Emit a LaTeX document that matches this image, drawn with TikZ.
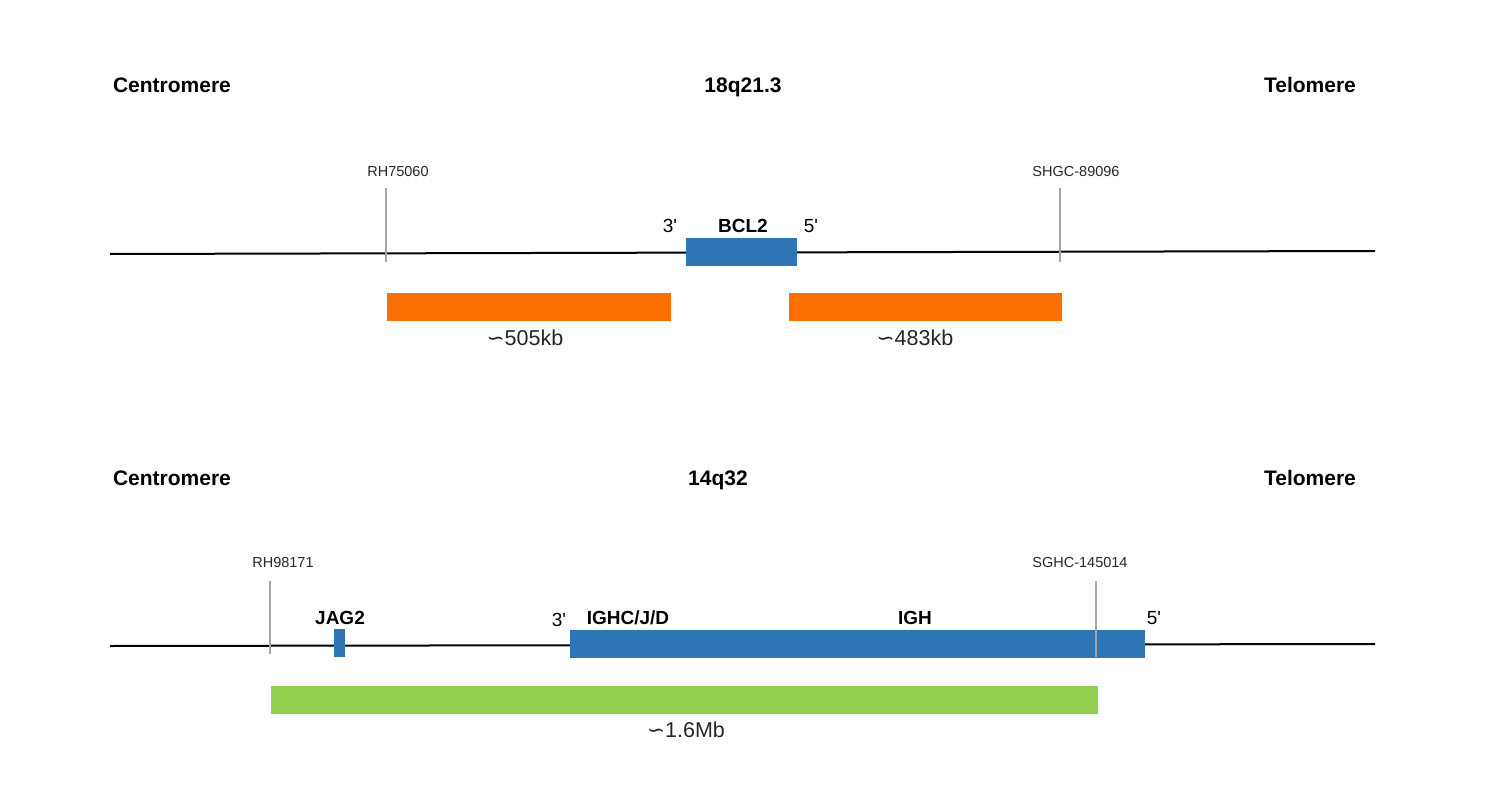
\documentclass[tikz,border=0pt]{standalone}
\usepackage{fontspec}
\setmainfont{Liberation Sans}[Ligatures=TeXOff]
\newfontfamily\symfont{DejaVu Sans}
\definecolor{geneblue}{HTML}{2E75B6}
\definecolor{probeorange}{HTML}{FA7000}
\definecolor{probegreen}{HTML}{92D050}
\definecolor{tickgray}{HTML}{A6A6A6}
\begin{document}
\begin{tikzpicture}[x=1pt, y=-1pt,
  head/.style={font={\fontsize{21}{24}\selectfont\bfseries}, anchor=base},
  genelabel/.style={font={\fontsize{19}{22}\selectfont\bfseries}},
  endlabel/.style={font={\fontsize{19}{22}\selectfont}},
  markerlabel/.style={font={\fontsize{14.5}{17}\selectfont}, text=black!85},
  sizelabel/.style={font={\fontsize{21.5}{24}\selectfont}, text=black!85},
  chrom/.style={line width=2pt, black},
  tick/.style={line width=2pt, tickgray},
  gene/.style={fill=geneblue, inner sep=0pt, minimum height=28pt},
  probe/.style={inner sep=0pt, minimum height=28pt}]
  \useasboundingbox (0,0) rectangle (1498,799);
  % headings of both chromosomes
  \foreach \t/\x [count=\n] in {Centromere/172, 18q21.3/743, Telomere/1310} {
    \node[head] (top\n) at (\x,93) {\t};
  }
  \foreach \t/\x [count=\n] in {Centromere/172, 14q32/718, Telomere/1310} {
    \node[head] (bot\n) at (\x,485) {\t};
  }

  % chromosome 18
  \coordinate (c18w) at (110,254);
  \coordinate (c18e) at (1375,251);
  \draw[chrom] (c18w) -- (c18e);
  \node[gene, minimum width=111pt] (bcl2) at (741.5,252) {};
  \node[genelabel] (bcl2name) at (743,226) {BCL2};
  \node[endlabel] (bcl2three) at (670,226) {3'};
  \node[endlabel] (bcl2five) at (811,226) {5'};
  % markers
  \foreach \name/\x/\lx [count=\n] in {RH75060/386/398, SHGC-89096/1060/1076} {
    \node[markerlabel] (mk18\n) at (\lx,172) {\name};
    \coordinate (mk18top\n) at (\x,188);
    \coordinate (mk18bot\n) at (\x,262);
    \draw[tick] (mk18top\n) -- (mk18bot\n);
  }
  % probes
  \node[probe, fill=probeorange, minimum width=284pt] (probe1) at (529,307) {};
  \node[probe, fill=probeorange, minimum width=273pt] (probe2) at (925.5,307) {};
  \node[sizelabel] (size1) at (525,338) {{\symfont ∽}505kb};
  \node[sizelabel] (size2) at (915,338) {{\symfont ∽}483kb};

  % chromosome 14
  \coordinate (c14w) at (110,646);
  \coordinate (c14e) at (1375,644);
  \draw[chrom] (c14w) -- (c14e);
  \node[gene, minimum width=11pt] (jag2) at (339.5,643) {};
  \node[genelabel] (jag2name) at (340,618) {JAG2};
  \node[gene, minimum width=575pt] (igh) at (857.5,644) {};
  \node[genelabel] (ighcjd) at (628,618) {IGHC/J/D};
  \node[genelabel] (ighname) at (915,618) {IGH};
  \node[endlabel] (ighthree) at (559,620) {3'};
  \node[endlabel] (ighfive) at (1154,618) {5'};
  % markers
  \foreach \name/\x/\lx/\b [count=\n] in {RH98171/270/283/654, SGHC-145014/1096/1080/657} {
    \node[markerlabel] (mk14\n) at (\lx,563) {\name};
    \coordinate (mk14top\n) at (\x,581);
    \coordinate (mk14bot\n) at (\x,\b);
    \draw[tick] (mk14top\n) -- (mk14bot\n);
  }
  % probe
  \node[probe, fill=probegreen, minimum width=827pt] (probe3) at (684.5,700) {};
  \node[sizelabel] (size3) at (686,730) {{\symfont ∽}1.6Mb};
\end{tikzpicture}
\end{document}
